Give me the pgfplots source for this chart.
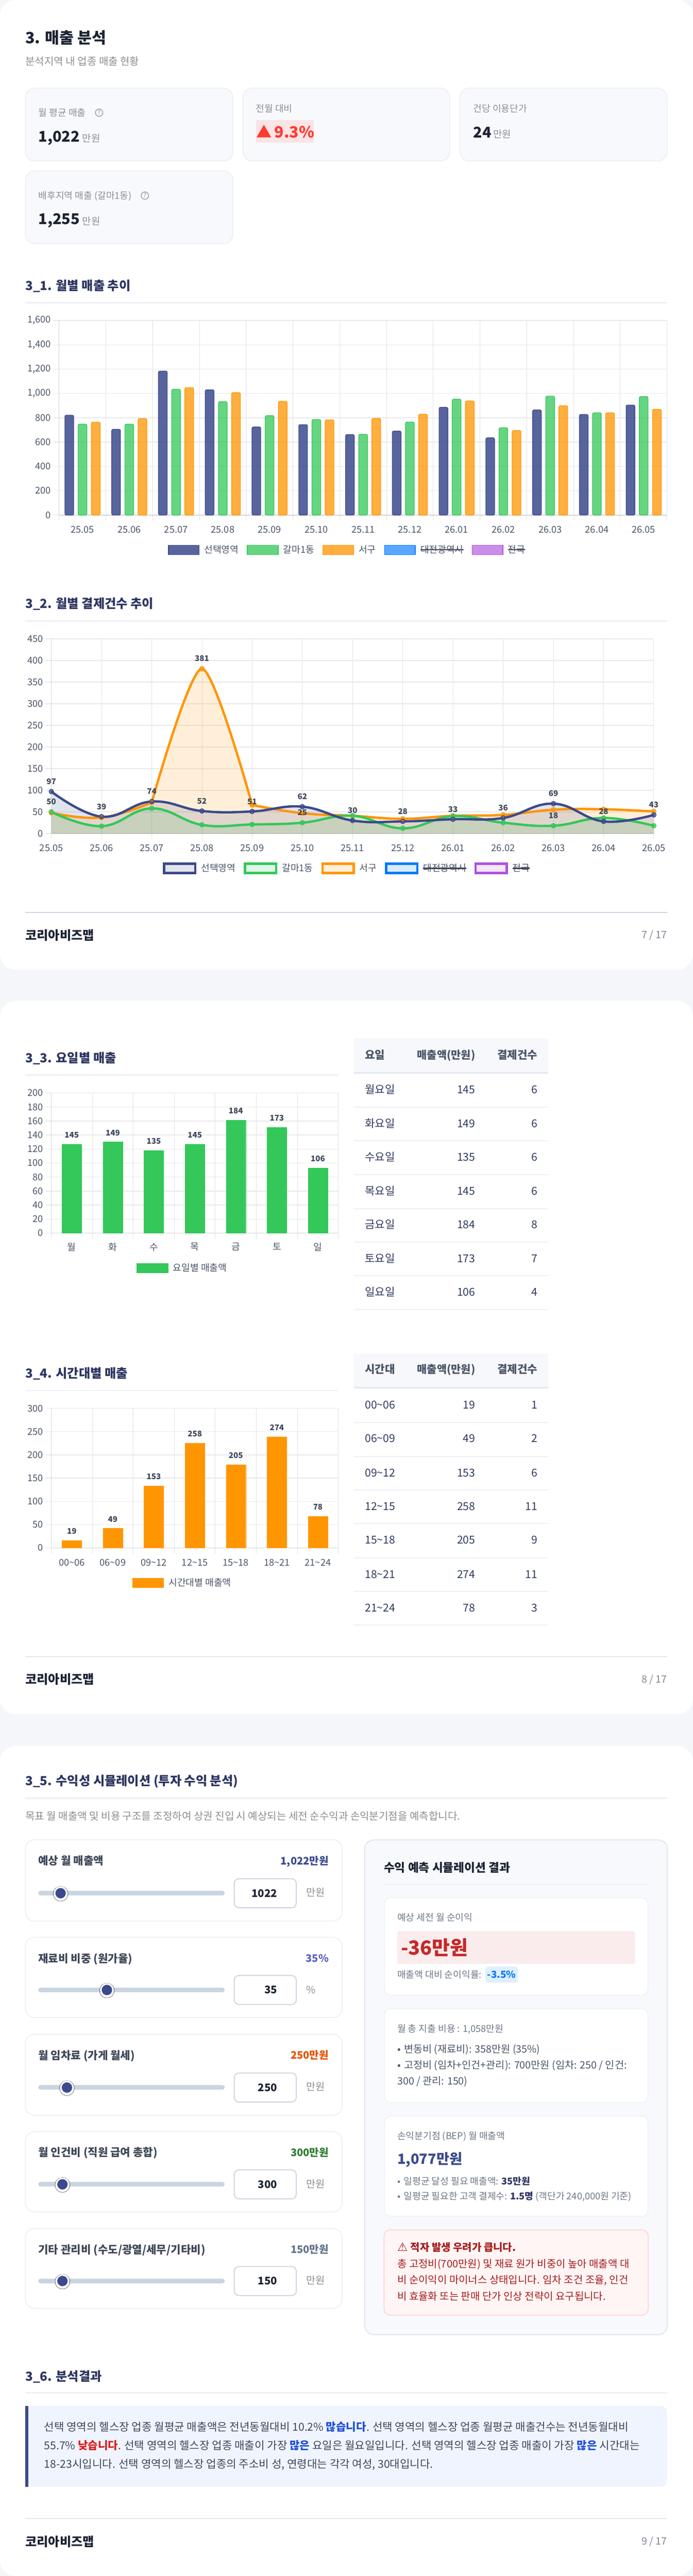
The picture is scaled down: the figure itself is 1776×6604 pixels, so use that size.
\documentclass[border=0pt]{standalone}
\usepackage{fontspec}
\usepackage{pgfplots}
\usepackage{pgfplotstable}
\pgfplotsset{compat=1.18}
\setmainfont{Noto Sans CJK KR}
\newfontfamily\dejavu{DejaVu Sans}
\definecolor{navy}{HTML}{3B4A8C}
\definecolor{cgreen}{HTML}{34C759}
\definecolor{corange}{HTML}{FF9500}
\definecolor{cblue}{HTML}{007AFF}
\definecolor{cpurple}{HTML}{AF52DE}
\definecolor{pagebg}{HTML}{F5F6FA}
\definecolor{softcard}{HTML}{F8F9FC}
\definecolor{edge}{HTML}{EFF0F5}
\definecolor{graytxt}{HTML}{8E8E93}
\definecolor{tickc}{HTML}{4A5568}
\definecolor{titlec}{HTML}{2D3561}
\definecolor{darkc}{HTML}{1C2333}
\definecolor{gridc}{HTML}{E9E9ED}
\definecolor{vgridc}{HTML}{E3E3E7}
\definecolor{axisc}{HTML}{D6D6DB}
\definecolor{strikec}{HTML}{3D4759}
\definecolor{footline}{HTML}{CBD5E1}
\definecolor{rowc}{HTML}{2F3A5F}
\definecolor{redtxt}{HTML}{FF3B30}
\definecolor{redbg}{HTML}{F9E4E6}
\definecolor{alertc}{HTML}{A61B1B}
\definecolor{boldblue}{HTML}{1D4ED8}
\definecolor{boldred}{HTML}{DC1C1C}
\definecolor{lossred}{HTML}{C62828}
\newcommand\TL[5]{\node[anchor=base west,inner sep=0pt,text=#4,font=\fontsize{#3}{#3}\selectfont] at (#1,{#2+0.36*#3}) {#5};}
\newcommand\TR[5]{\node[anchor=base east,inner sep=0pt,text=#4,font=\fontsize{#3}{#3}\selectfont] at (#1,{#2+0.36*#3}) {#5};}
\newcommand\TC[5]{\node[anchor=base,inner sep=0pt,text=#4,font=\fontsize{#3}{#3}\selectfont] at (#1,{#2+0.36*#3}) {#5};}
\newcommand\strike[1]{\leavevmode\setbox0=\hbox{#1}\rlap{\color{strikec}\rule[7pt]{\wd0}{3pt}}\box0}
\newcommand\Row[4]{\TL{935.5}{#1}{28}{rowc}{#2}\TR{1218.6}{#1}{28}{rowc}{#3}\TR{1378}{#1}{28}{rowc}{#4}}
\newcommand\SecRule[3]{\fill[edge] (65,#1) rectangle (#2,#3);}
\newcommand\Help[2]{\draw[graytxt,line width=1.6pt] (#1,#2) circle (9.5);\TC{#1}{#2}{15}{graytxt}{?}}
\newcommand\Kpi[4]{\fill[softcard,draw=edge,line width=2.5pt,rounded corners=24pt] (#1,#2) rectangle (#4,#3);}
\newcommand\Bul{•\hspace{8.2pt}}
\definecolor{slidevio}{HTML}{5A64C0}
\definecolor{slideorg}{HTML}{E65100}
\definecolor{slidegrn}{HTML}{2E7D32}
\definecolor{slidegry}{HTML}{64748B}
\newcommand\Slider[8]{%
 \fill[white,draw=edge,line width=2.5pt,rounded corners=24pt] (65,#1) rectangle (877,#2);
 \TL{98}{#3}{28}{tickc!85!black}{\bfseries #4}
 \TR{842.7}{#3}{26.6}{#5}{\bfseries #6}
 \draw[footline,fill=white,line width=2.5pt,rounded corners=12pt] (600.5,{#7-37.2}) rectangle (759.5,{#7+37.2});
 \TR{711}{#7}{27}{darkc}{\bfseries #8}}
\pgfplotsset{
 mychart/.style={
  scale only axis, anchor=south west, clip=false,
  axis y line*=left, axis x line*=bottom,
  axis line style={draw=axisc},
  x axis line style={line width=2.5pt},
  y axis line style={line width=1.6pt},
  xmajorgrids, ymajorgrids,
  x grid style={draw=vgridc,line width=1.2pt},
  y grid style={draw=gridc,line width=1.8pt},
  tick align=outside, major tick length=15pt,
  x tick style={draw=vgridc,line width=1.2pt},
  y tick style={draw=gridc,line width=1.8pt},
  /pgf/number format/assume math mode=true,
  /pgf/number format/1000 sep={,},
  tick label style={font=\fontsize{24}{24}\selectfont,text=tickc},
  yticklabel style={inner sep=0pt,xshift=-6pt},
  xticklabel style={inner sep=0pt,yshift=-13pt},
  legend cell align=left,
  legend style={draw=none,fill=none,inner sep=0pt,outer sep=0pt,
    font=\fontsize{24}{24}\selectfont,text=tickc,
    nodes={inner sep=0pt,anchor=base west},
    /tikz/every even column/.append style={column sep=21pt},
    /tikz/every odd column/.append style={column sep=12pt},
    legend columns=5},
 },
 barswatch/.style n args={2}{legend image code/.code={\draw[fill=#1,fill opacity=#2,draw=#1,line width=2pt] (0pt,-4pt) rectangle (79pt,20pt);}},
 lineswatch/.style={legend image code/.code={\draw[fill=#1,fill opacity=.15,draw=#1,draw opacity=1,line width=6pt] (0pt,-3.4pt) rectangle (80pt,20.6pt);}},
 barplot/.style={draw=#1,fill=#1,fill opacity=.75,draw opacity=1,line width=1.6pt,rounded corners=3.5pt,bar width=22.5pt,forget plot},
 areafill/.style={forget plot,draw=none,fill=#1,fill opacity=.15,smooth,tension=.72},
 linetop/.style={forget plot,draw=#1,line width=6pt,line join=round,line cap=round,smooth,tension=.72,mark=*,mark size=5.5pt,
   mark options={fill=#1,fill opacity=.15,draw=#1,draw opacity=1,line width=2.5pt}},
 numlabels/.style={forget plot,draw=none,mark=none,nodes near coords,point meta=y,
   nodes near coords style={anchor=south,inner sep=0pt,yshift=18pt,font=\fontsize{20}{20}\selectfont\bfseries,text=strikec,fill opacity=1,text opacity=1}},
 barlabels/.style={nodes near coords,point meta=explicit symbolic,bar shift=0pt,
   nodes near coords style={anchor=south,inner sep=0pt,yshift=16pt,font=\fontsize{20}{20}\selectfont\bfseries,text=strikec}},
 slideraxis/.style={scale only axis,anchor=south west,hide axis,clip=false,width=478pt,height=30pt,ymin=-1,ymax=1},
 trackline/.style={draw=footline,line width=12pt,line cap=round,mark=none},
 thumbhalo/.style={only marks,mark=*,mark size=19pt,mark options={fill=black,fill opacity=.05,draw=none}},
 thumbdot/.style={only marks,mark=*,mark size=15.5pt,mark options={fill=navy,draw=white,line width=4pt}},
}
\begin{document}
\begin{tikzpicture}
\useasboundingbox (0pt,0pt) rectangle (1776pt,6604pt);
\fill[pagebg] (0pt,0pt) rectangle (1776pt,6604pt);
\begin{scope}[x=1pt,y=-1pt,yshift=6604pt]
% cards
\fill[white,rounded corners=40pt] (0,0) rectangle (1776,2486);
\fill[white,rounded corners=40pt] (0,2566) rectangle (1776,4395);
\fill[white,rounded corners=40pt] (0,4476) rectangle (1776,6604);
% header
\TL{65}{97}{40}{darkc}{\bfseries 3. 매출 분석}
\TL{65}{157}{26.5}{graytxt}{분석지역 내 업종 매출 현황}
\Kpi{65}{226}{413}{597}
\Kpi{623}{226}{413}{1153}
\Kpi{1179}{226}{413}{1710}
\Kpi{65}{438}{625}{597}
\TL{98.5}{289}{24}{graytxt}{월 평균 매출}
\Help{254}{289}
\TL{98.5}{350}{38}{darkc}{\bfseries 1,022}
\TL{210.6}{354.4}{25}{graytxt}{만원}
\TL{655.7}{278.6}{24}{graytxt}{전월 대비}
\fill[redbg] (656,308) rectangle (804,366);
\TL{657}{339}{40}{redtxt}{▲\,\bfseries 9.3\%}
\TL{1213}{278.6}{24}{graytxt}{건당 이용단가}
\TL{1213}{340}{38}{darkc}{\bfseries 24}
\TL{1264}{344}{25}{graytxt}{만원}
\TL{98.5}{501.5}{24}{graytxt}{배후지역 매출 (갈마1동)}
\Help{371.5}{501.5}
\TL{98.5}{562}{38}{darkc}{\bfseries 1,255}
\TL{210.6}{567}{25}{graytxt}{만원}
% 3_1
\TL{65}{733}{32}{titlec}{\bfseries 3\_1. 월별 매출 추이}
\SecRule{774}{1710}{778}
% 3_2
\TL{65}{1548}{32}{titlec}{\bfseries 3\_2. 월별 결제건수 추이}
\SecRule{1590}{1710}{1594}
% footer 1
\fill[footline] (65,2338) rectangle (1710,2340);
\TL{65}{2398}{32}{darkc}{\bfseries 코리아비즈맵}
\TR{1710}{2397}{26}{tickc!70!white}{7 / 17}
% 3_3
\TL{65}{2713}{32}{titlec}{\bfseries 3\_3. 요일별 매출}
\fill[edge] (65,2754) rectangle (867.5,2758);
\fill[softcard!70!pagebg] (908,2662) rectangle (1405,2748);
\fill[footline!55!white] (908,2748) rectangle (1405,2752);
\TL{935.5}{2705}{28}{tickc}{\bfseries 요일}
\TR{1218.6}{2705}{27.6}{tickc}{\bfseries 매출액(만원)}
\TR{1378}{2705}{28}{tickc}{\bfseries 결제건수}
\foreach \y in {2837,2923,3010,3097,3183,3269,3356}{\fill[edge] (908,\y) rectangle (1405,\y+2.5);}
\Row{2794}{월요일}{145}{6}
\Row{2880}{화요일}{149}{6}
\Row{2966}{수요일}{135}{6}
\Row{3053}{목요일}{145}{6}
\Row{3140}{금요일}{184}{8}
\Row{3226}{토요일}{173}{7}
\Row{3313}{일요일}{106}{4}
% 3_4
\TL{65}{3521}{32}{titlec}{\bfseries 3\_4. 시간대별 매출}
\fill[edge] (65,3563) rectangle (867.5,3566);
\fill[softcard!70!pagebg] (908,3470) rectangle (1405,3556);
\fill[footline!55!white] (908,3556) rectangle (1405,3560);
\TL{935.5}{3511}{28}{tickc}{\bfseries 시간대}
\TR{1218.6}{3511}{27.6}{tickc}{\bfseries 매출액(만원)}
\TR{1378}{3511}{28}{tickc}{\bfseries 결제건수}
\foreach \y in {3645,3733,3818.5,3904.6,3992.6,4078.7,4164.8}{\fill[edge] (908,\y) rectangle (1405,\y+2.5);}
\Row{3601.7}{00\textasciitilde06}{19}{1}
\Row{3687.8}{06\textasciitilde09}{49}{2}
\Row{3775.8}{09\textasciitilde12}{153}{6}
\Row{3862}{12\textasciitilde15}{258}{11}
\Row{3948}{15\textasciitilde18}{205}{9}
\Row{4036.6}{18\textasciitilde21}{274}{11}
\Row{4122}{21\textasciitilde24}{78}{3}
% footer 2
\fill[footline] (65,4246) rectangle (1710,4248);
\TL{65}{4306}{32}{darkc}{\bfseries 코리아비즈맵}
\TR{1710}{4305}{26}{tickc!70!white}{8 / 17}
% 3_5
\TL{65}{4566}{32}{titlec}{\bfseries 3\_5. 수익성 시뮬레이션 (투자 수익 분석)}
\SecRule{4608}{1710}{4612}
\TL{65}{4656}{26.5}{graytxt}{목표 월 매출액 및 비용 구조를 조정하여 상권 진입 시 예상되는 세전 순수익과 손익분기점을 예측합니다.}
\Slider{4716.5}{4925}{4770.7}{예상 월 매출액}{navy}{1,022만원}{4853.6}{1022}
\TL{784.7}{4852}{26}{graytxt}{만원}
\Slider{4966.5}{5172.5}{5021}{재료비 비중 (원가율)}{slidevio}{35\%}{5101.7}{35}
\TL{784.7}{5101}{26}{graytxt}{\%}
\Slider{5215}{5422.8}{5269.4}{월 임차료 (가게 월세)}{slideorg}{250만원}{5351.8}{250}
\TL{784.7}{5350}{26}{graytxt}{만원}
\Slider{5464.7}{5670.5}{5518.8}{월 인건비 (직원 급여 총합)}{slidegrn}{300만원}{5600}{300}
\TL{784.7}{5599}{26}{graytxt}{만원}
\Slider{5713}{5918}{5767.4}{기타 관리비 (수도/광열/세무/기타비)}{slidegry}{150만원}{5847.8}{150}
\TL{784.7}{5847}{26}{graytxt}{만원}
% result panel
\fill[softcard,draw=edge!60!footline,line width=2.5pt,rounded corners=24pt] (934.6,4717) rectangle (1711,5985.4);
\TL{983.8}{4787.8}{30}{darkc}{\bfseries 수익 예측 시뮬레이션 결과}
\fill[footline!60!white] (984,4830) rectangle (1662,4832);
\fill[white,draw=edge,line width=2pt,rounded corners=16pt] (985.5,4865) rectangle (1661,5115);
\TL{1018.4}{4916}{24}{tickc!80!white}{예상 세전 월 순이익}
\fill[lossred!9!white,rounded corners=6pt] (1017.9,4950.5) rectangle (1628,5034.9);
\TL{1027.4}{4994}{50}{lossred}{\bfseries -36만원}
\TL{1018.4}{5062.4}{24}{tickc!80!white}{매출액 대비 순이익률:}
\fill[cblue!12!white,rounded corners=8pt] (1244,5041.7) rectangle (1328,5083);
\TC{1286}{5062.4}{25}{cblue}{\bfseries -3.5\%}
\fill[white,draw=edge,line width=2pt,rounded corners=16pt] (985.5,5149.4) rectangle (1661,5390.4);
\TL{1018.4}{5201}{24}{tickc!80!white}{월 총 지출 비용 : 1,058만원}
\TL{1018.4}{5253.5}{26}{tickc}{\Bul 변동비 (재료비): 358만원 (35\%)}
\TL{1018.4}{5294}{26}{tickc}{\Bul 고정비 (임차+인건+관리): 700만원 (임차: 250 / 인건:}
\TL{1018.4}{5335.3}{26}{tickc}{300 / 관리: 150)}
\fill[white,draw=edge,line width=2pt,rounded corners=16pt] (985.5,5425) rectangle (1661,5682);
\TL{1018.4}{5476.5}{24}{tickc!80!white}{손익분기점 (BEP) 월 매출액}
\TL{1018.4}{5535}{36}{navy}{\bfseries 1,077만원}
\TL{1018.4}{5592.8}{24}{tickc!80!white}{\Bul 일평균 달성 필요 매출액: \textcolor{titlec}{\bfseries 35만원}}
\TL{1018.4}{5630.6}{24}{tickc!80!white}{\Bul 일평균 필요한 고객 결제수: \textcolor{titlec}{\bfseries 1.5명} (객단가 240,000원 기준)}
\fill[red!4!white,draw=red!16!white,line width=2.5pt,rounded corners=16pt] (984.4,5716.7) rectangle (1661.5,5935.4);
\TL{1018.4}{5761.5}{26.4}{alertc}{\makebox[33.6pt][l]{\dejavu\fontsize{30}{30}\selectfont ⚠}\bfseries 적자 발생 우려가 큽니다.}
\TL{1018.4}{5803.7}{26.4}{alertc}{총 고정비(700만원) 및 재료 원가 비중이 높아 매출액 대}
\TL{1018.4}{5845}{26.4}{alertc}{비 순이익이 마이너스 상태입니다. 임차 조건 조율, 인건}
\TL{1018.4}{5887.2}{26.4}{alertc}{비 효율화 또는 판매 단가 인상 전략이 요구됩니다.}
% 3_6
\TL{65}{6092}{32}{titlec}{\bfseries 3\_6. 분석결과}
\SecRule{6132}{1710}{6136}
\definecolor{notefill}{HTML}{F0F4FF}
\fill[notefill,rounded corners=16pt] (65,6168) rectangle (1710,6375.6);
\fill[notefill] (65,6168) rectangle (100,6375.6);
\fill[navy] (65,6168) rectangle (73,6375.6);
\TL{113}{6222}{28}{strikec}{선택 영역의 헬스장 업종 월평균 매출액은 전년동월대비 10.2\% \textcolor{boldblue}{\bfseries 많습니다}. 선택 영역의 헬스장 업종 월평균 매출건수는 전년동월대비}
\TL{113}{6269.6}{28}{strikec}{55.7\% \textcolor{boldred}{\bfseries 낮습니다}. 선택 영역의 헬스장 업종 매출이 가장 \textcolor{boldblue}{\bfseries 많은} 요일은 월요일입니다. 선택 영역의 헬스장 업종 매출이 가장 \textcolor{boldblue}{\bfseries 많은} 시간대는}
\TL{113}{6317.8}{28}{strikec}{18-23시입니다. 선택 영역의 헬스장 업종의 주소비 성, 연령대는 각각 여성, 30대입니다.}
\fill[footline] (65,6456) rectangle (1710,6458);
\TL{65}{6516}{32}{darkc}{\bfseries 코리아비즈맵}
\TR{1710}{6515}{26}{tickc!70!white}{9 / 17}
\end{scope}

% ---------- 3_1 bars
\begin{axis}[mychart, at={(151.6pt,5283.5pt)}, width=1558.4pt, height=498.8pt,
  xmin=0,xmax=13,ymin=0,ymax=1600,
  xtick={0,...,13}, x tick label as interval,
  xticklabels={25.05,25.06,25.07,25.08,25.09,25.10,25.11,25.12,26.01,26.02,26.03,26.04,26.05},
  ytick={0,200,...,1600}, ybar,
  legend style={at={(0.4729,-0.1794)},anchor=center}]
\addplot[barplot=navy,fill opacity=.85,bar shift=-33.8pt] coordinates {(0.5,821)(1.5,705)(2.5,1184)(3.5,1030)(4.5,724)(5.5,744)(6.5,662)(7.5,691)(8.5,886)(9.5,635)(10.5,864)(11.5,827)(12.5,905)};
\addplot[barplot=cgreen,bar shift=0pt] coordinates {(0.5,748)(1.5,748)(2.5,1034)(3.5,932)(4.5,818)(5.5,786)(6.5,664)(7.5,765)(8.5,953)(9.5,718)(10.5,978)(11.5,841)(12.5,974)};
\addplot[barplot=corange,bar shift=33.8pt] coordinates {(0.5,764)(1.5,793)(2.5,1048)(3.5,1007)(4.5,935)(5.5,783)(6.5,795)(7.5,829)(8.5,938)(9.5,695)(10.5,899)(11.5,841)(12.5,870)};
\addlegendimage{barswatch={navy}{.85}}\addlegendentry{선택영역}
\addlegendimage{barswatch={cgreen}{.75}}\addlegendentry{갈마1동}
\addlegendimage{barswatch={corange}{.75}}\addlegendentry{서구}
\addlegendimage{barswatch={cblue}{.65}}\addlegendentry{\strike{대전광역시}}
\addlegendimage{barswatch={cpurple}{.65}}\addlegendentry{\strike{전국}}
\end{axis}

% ---------- 3_2 lines
\begin{axis}[mychart, at={(131.6pt,4467.1pt)}, width=1544.4pt, height=499pt,
  xmin=0,xmax=12,ymin=0,ymax=450,
  xtick={0,...,12},
  xticklabels={25.05,25.06,25.07,25.08,25.09,25.10,25.11,25.12,26.01,26.02,26.03,26.04,26.05},
  ytick={0,50,...,450},
  legend style={at={(0.4898,-0.1786)},anchor=center}]
\addplot[areafill=corange] coordinates {(0,48)(1,37)(2,72)} \closedcycle;
\addplot[areafill=corange,tension=.45] coordinates {(2,72)(3,381)(4,66)} \closedcycle;
\addplot[areafill=corange] coordinates {(4,66)(5,47)(6,41)(7,34)(8,41)(9,43)(10,55)(11,56)(12,51)} \closedcycle;
\addplot[areafill=cgreen] coordinates {(0,50)(1,17)(2,58)(3,20)(4,21)(5,25)(6,41)(7,12)(8,40)(9,25)(10,18)(11,36)(12,18)} \closedcycle;
\addplot[areafill=navy] coordinates {(0,97)(1,39)(2,74)(3,52)(4,51)(5,62)(6,30)(7,28)(8,33)(9,36)(10,69)(11,28)(12,43)} \closedcycle;
\addplot[linetop=corange] coordinates {(0,48)(1,37)(2,72)};
\addplot[linetop=corange,tension=.45] coordinates {(2,72)(3,381)(4,66)};
\addplot[linetop=corange] coordinates {(4,66)(5,47)(6,41)(7,34)(8,41)(9,43)(10,55)(11,56)(12,51)};
\addplot[linetop=cgreen] coordinates {(0,50)(1,17)(2,58)(3,20)(4,21)(5,25)(6,41)(7,12)(8,40)(9,25)(10,18)(11,36)(12,18)};
\addplot[linetop=navy] coordinates {(0,97)(1,39)(2,74)(3,52)(4,51)(5,62)(6,30)(7,28)(8,33)(9,36)(10,69)(11,28)(12,43)};
\addplot[numlabels] coordinates {(0,97)(1,39)(2,74)(3,52)(4,51)(5,62)(6,30)(7,28)(8,33)(9,36)(10,69)(11,28)(12,43)};
\addplot[numlabels] coordinates {(0,50)(5,25)(10,18)};
\addplot[numlabels] coordinates {(3,381)};
\addlegendimage{lineswatch=navy}\addlegendentry{선택영역}
\addlegendimage{lineswatch=cgreen}\addlegendentry{갈마1동}
\addlegendimage{lineswatch=corange}\addlegendentry{서구}
\addlegendimage{lineswatch=cblue}\addlegendentry{\strike{대전광역시}}
\addlegendimage{lineswatch=cpurple}\addlegendentry{\strike{전국}}
\end{axis}

% ---------- 3_3 weekday
\begin{axis}[mychart, at={(131.4pt,3442.6pt)}, width=736.1pt, height=359.4pt,
  xmin=0,xmax=7,ymin=0,ymax=200,
  xtick={0,...,7}, x tick label as interval,
  xticklabels={월,화,수,목,금,토,일},
  xticklabel style={yshift=3pt},
  ytick={0,20,...,200}, ybar, bar width=50pt,
  legend style={at={(0.4545,-0.2504)},anchor=center}]
\addplot[forget plot,draw=cgreen,fill=cgreen,barlabels] table[x=x,y=y,meta=lab] {
x y lab
0.5 127 145
1.5 130 149
2.5 118 135
3.5 127 145
4.5 161 184
5.5 151 173
6.5 93 106
};
\addlegendimage{barswatch={cgreen}{1}}\addlegendentry{요일별 매출액}
\end{axis}

% ---------- 3_4 time band
\begin{axis}[mychart, at={(131.4pt,2635.6pt)}, width=736.1pt, height=357.8pt,
  xmin=0,xmax=7,ymin=0,ymax=300,
  xtick={0,...,7}, x tick label as interval,
  xticklabels={00\textasciitilde06,06\textasciitilde09,09\textasciitilde12,12\textasciitilde15,15\textasciitilde18,18\textasciitilde21,21\textasciitilde24},
  ytick={0,50,...,300}, ybar, bar width=50pt,
  legend style={at={(0.4545,-0.2515)},anchor=center}]
\addplot[forget plot,draw=corange,fill=corange,barlabels] table[x=x,y=y,meta=lab] {
x y lab
0.5 16 19
1.5 42 49
2.5 133 153
3.5 225 258
4.5 179 205
5.5 239 274
6.5 68 78
};
\addlegendimage{barswatch={corange}{1}}\addlegendentry{시간대별 매출액}
\end{axis}

% ---------- sliders
\begin{axis}[slideraxis, at={(98pt,1735.4pt)}, xmin=0,xmax=8517]
\addplot[trackline] coordinates {(106,0)(8411,0)};
\addplot[thumbhalo] coordinates {(1022,-.1)};
\addplot[thumbdot] coordinates {(1022,0)};
\end{axis}
\begin{axis}[slideraxis, at={(98pt,1487.3pt)}, xmin=0,xmax=95]
\addplot[trackline] coordinates {(1.2,0)(93.8,0)};
\addplot[thumbhalo] coordinates {(35,-.1)};
\addplot[thumbdot] coordinates {(35,0)};
\end{axis}
\begin{axis}[slideraxis, at={(98pt,1237.2pt)}, xmin=0,xmax=1623]
\addplot[trackline] coordinates {(20,0)(1603,0)};
\addplot[thumbhalo] coordinates {(250,-.1)};
\addplot[thumbdot] coordinates {(250,0)};
\end{axis}
\begin{axis}[slideraxis, at={(98pt,989pt)}, xmin=0,xmax=2308]
\addplot[trackline] coordinates {(29,0)(2279,0)};
\addplot[thumbhalo] coordinates {(300,-.1)};
\addplot[thumbdot] coordinates {(300,0)};
\end{axis}
\begin{axis}[slideraxis, at={(98pt,741.2pt)}, xmin=0,xmax=1154]
\addplot[trackline] coordinates {(14,0)(1140,0)};
\addplot[thumbhalo] coordinates {(150,-.1)};
\addplot[thumbdot] coordinates {(150,0)};
\end{axis}
\end{tikzpicture}
\end{document}
